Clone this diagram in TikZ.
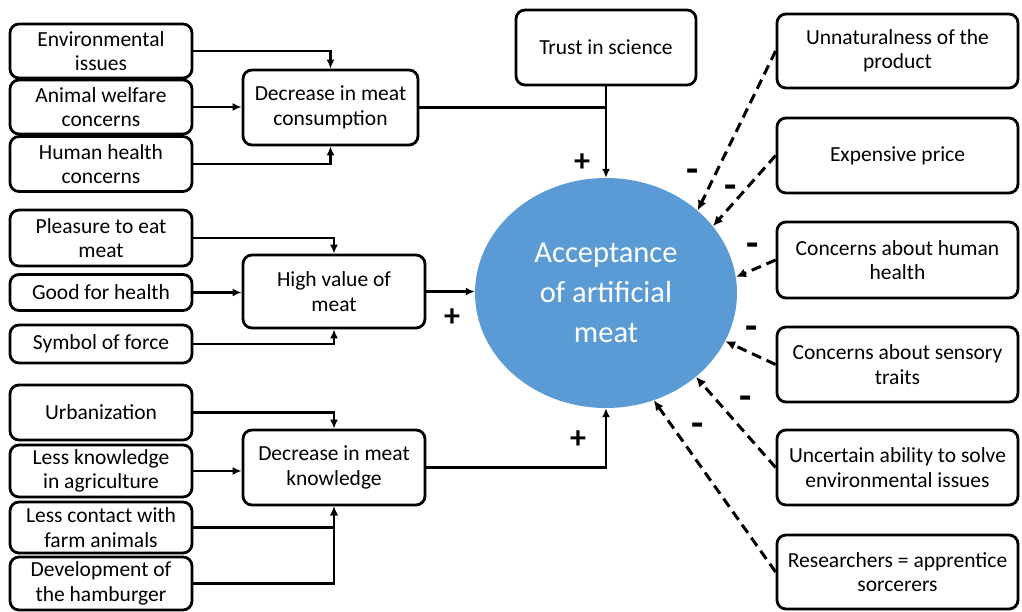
\documentclass[tikz,border=0pt]{standalone}
\usepackage{fontspec}
\setmainfont{Carlito}
\usetikzlibrary{arrows.meta,shapes.geometric}
\definecolor{circblue}{RGB}{91,155,213}
\tikzset{
  box/.style={draw, rounded corners=9pt, line width=2.8pt, align=center, inner sep=0pt,
    font=\fontsize{21.5}{24.5}\selectfont, fill=white},
  conn/.style={line width=2.5pt, -{Latex[length=9pt,width=8pt]}},
  plainconn/.style={line width=2.5pt},
  neg/.style={line width=3pt, dash pattern=on 10pt off 6pt, -{Latex[length=10pt,width=9pt]}},
  sign/.style={font=\fontsize{32}{32}\selectfont\bfseries, inner sep=0pt},
  minus/.style={font=\fontsize{40}{40}\selectfont\bfseries, inner sep=0pt},
}
\begin{document}
\begin{tikzpicture}[x=1pt,y=-1pt]
\useasboundingbox (0,0) rectangle (1022,612);
% left column
\node[box, minimum width=182pt, minimum height=54pt] (env) at (101,51) {Environmental\\issues};
\node[box, minimum width=182pt, minimum height=54pt] (aw) at (101,107) {Animal welfare\\concerns};
\node[box, minimum width=182pt, minimum height=55pt] (hh) at (101,164) {Human health\\concerns};
\node[box, minimum width=182pt, minimum height=56pt] (ple) at (101,238) {Pleasure to eat\\meat};
\node[box, minimum width=182pt, minimum height=36pt] (gfh) at (101,292.5) {Good for health};
\node[box, minimum width=182pt, minimum height=38pt] (sof) at (101,344) {Symbol of force};
\node[box, minimum width=182pt, minimum height=55pt] (urb) at (101,412.5) {Urbanization};
\node[box, minimum width=182pt, minimum height=52pt] (lk) at (101,471) {Less knowledge\\in agriculture};
\node[box, minimum width=182pt, minimum height=51pt] (lc) at (101,527.5) {Less contact with\\farm animals};
\node[box, minimum width=182pt, minimum height=53pt] (dev) at (101,583.5) {Development of\\the hamburger};
% middle
\node[box, minimum width=175pt, minimum height=75pt] (dmc) at (330.5,107.5) {Decrease in meat\\consumption};
\node[box, minimum width=182pt, minimum height=73pt] (hv) at (334,291.5) {High value of\\meat};
\node[box, minimum width=182pt, minimum height=75pt] (dmk) at (334,467.5) {Decrease in meat\\knowledge};
\node[box, minimum width=180pt, minimum height=75pt] (trust) at (606,47.5) {Trust in science};
% central ellipse
\node[ellipse, fill=circblue, minimum width=262pt, minimum height=230pt, inner sep=0pt,
  text=white, align=center, font=\fontsize{30.5}{40}\selectfont] (circ) at (606,293)
  {Acceptance\\of artificial\\meat};
% right column
\node[box, minimum width=241pt, minimum height=74pt] (unn) at (897.5,51) {Unnaturalness of the\\product};
\node[box, minimum width=241pt, minimum height=75pt] (exp) at (897.5,155.5) {Expensive price};
\node[box, minimum width=241pt, minimum height=76pt] (chh) at (897.5,260) {Concerns about human\\health};
\node[box, minimum width=241pt, minimum height=75pt] (cst) at (897.5,364.5) {Concerns about sensory\\traits};
\node[box, minimum width=241pt, minimum height=75pt] (unc) at (897.5,467.5) {Uncertain ability to solve\\environmental issues};
\node[box, minimum width=241pt, minimum height=74pt] (res) at (897.5,572) {Researchers = apprentice\\sorcerers};
% left connectors
\draw[conn] (env.east) -| (dmc.north);
\draw[conn] (aw.east) -- (aw.east -| dmc.west);
\draw[conn] (hh.east) -| (dmc.south);
\draw[conn] (ple.east) -| (hv.north);
\draw[conn] (gfh.east) -- (gfh.east -| hv.west);
\draw[conn] (sof.east) -| (hv.south);
\draw[conn] (urb.east) -| (dmk.north);
\draw[conn] (lk.east) -- (lk.east -| dmk.west);
\draw[conn] (lc.east) -| (dmk.south);
\draw[conn] (dev.east) -| (dmk.south);
% to acceptance
\draw[plainconn] (dmc.east) -- (dmc.east -| trust.south);
\draw[conn] (trust.south) -- (circ.north);
\draw[conn] (hv.east) -- (hv.east -| circ.west);
\draw[conn] (dmk.east) -| (circ.south);
% negative
\draw[neg] (unn.west) -- (circ.42);
\draw[neg] (exp.west) -- (circ.32);
\draw[neg] (chh.west) -- (circ.7);
\draw[neg] (cst.west) -- (circ.-22);
\draw[neg] (unc.west) -- (circ.-43);
\draw[neg] (res.west) -- (circ.-66);
% signs
\node[sign] (p1) at (582,163) {+};
\node[sign] (p2) at (452,318) {+};
\node[sign] (p3) at (578,440) {+};
\node[minus] (m1) at (693,176) {-};
\node[minus] (m2) at (731,192) {-};
\node[minus] (m3) at (753,250) {-};
\node[minus] (m4) at (752,333) {-};
\node[minus] (m5) at (746,403) {-};
\node[minus] (m6) at (698,430) {-};
\end{tikzpicture}
\end{document}
